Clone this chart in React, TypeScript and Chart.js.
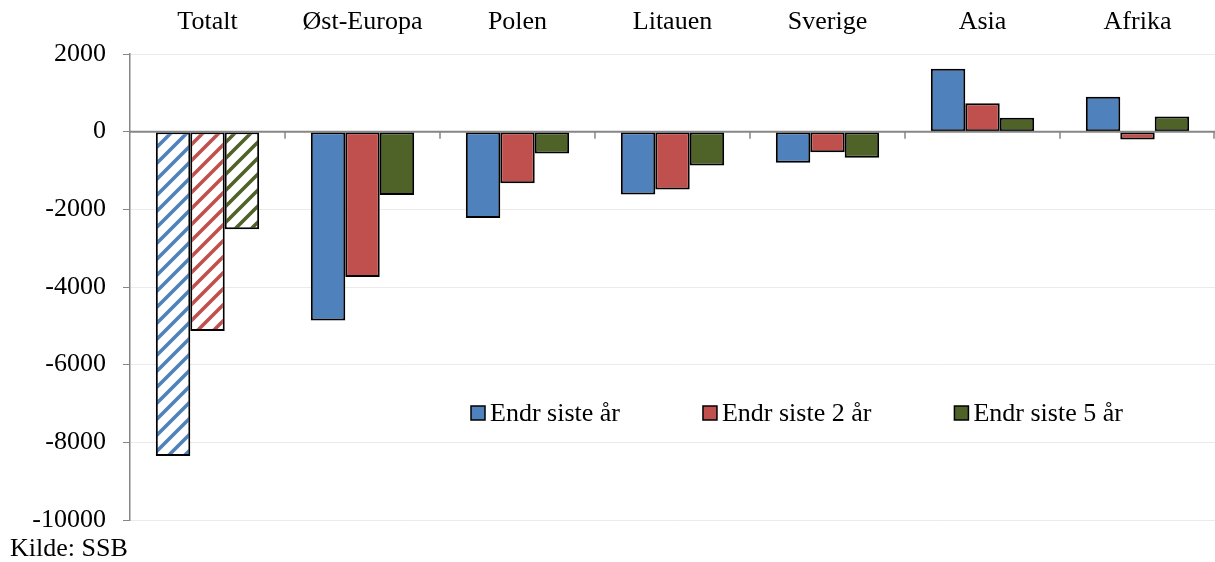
import React, { useEffect, useRef } from 'react';
import { Chart, registerables } from 'chart.js';

Chart.register(...registerables);

const categories = ['Totalt', 'Øst-Europa', 'Polen', 'Litauen', 'Sverige', 'Asia', 'Afrika'];
const seriesNames = ['Endr siste år', 'Endr siste 2 år', 'Endr siste 5 år'];
const changeLastYear = [-8350, -4860, -2220, -1620, -800, 1620, 900];
const changeLast2Years = [-5130, -3740, -1330, -1490, -530, 730, -200];
const changeLast5Years = [-2510, -1630, -560, -870, -670, 360, 390];
const yTickValues = [2000, 0, -2000, -4000, -6000, -8000, -10000];
const seriesColors = ['#4F81BD', '#C0504D', '#4F6228'];
const hatchedCategory = 'Totalt';
const sourceText = 'Kilde: SSB';

const FONT = "'Liberation Serif', 'Times New Roman', serif";
const FONT_SIZE = 26;
const AXIS_GRAY = '#868686';

function makeHatch(color: string): CanvasPattern | string {
  const s = 16;
  const c = document.createElement('canvas');
  c.width = s;
  c.height = s;
  const g = c.getContext('2d');
  if (!g) return color;
  g.fillStyle = '#ffffff';
  g.fillRect(0, 0, s, s);
  g.strokeStyle = color;
  g.lineWidth = 3.6;
  g.lineCap = 'square';
  g.beginPath();
  g.moveTo(0, s);
  g.lineTo(s, 0);
  g.moveTo(-s / 2, s / 2);
  g.lineTo(s / 2, -s / 2);
  g.moveTo(s / 2, (3 * s) / 2);
  g.lineTo((3 * s) / 2, s / 2);
  g.stroke();
  const p = g.createPattern(c, 'repeat');
  return p || color;
}

export default function App() {
  const canvasRef = useRef<HTMLCanvasElement | null>(null);

  useEffect(() => {
    const canvas = canvasRef.current;
    if (!canvas) return;
    const seriesValues = [changeLastYear, changeLast2Years, changeLast5Years];

    const datasets = seriesValues.map((vals, i) => {
      const hatch = makeHatch(seriesColors[i]);
      return {
        label: seriesNames[i],
        data: vals,
        backgroundColor: categories.map((c) => (c === hatchedCategory ? hatch : seriesColors[i])),
        borderColor: '#000000',
        borderWidth: 2,
        borderSkipped: false as const,
        categoryPercentage: 3 / 4.5,
        barPercentage: 1,
      };
    });

    const overlay = {
      id: 'overlay',
      afterDatasetsDraw(chart: any) {
        const { ctx, chartArea, scales } = chart;
        const y0 = scales.y.getPixelForValue(0);
        ctx.save();
        ctx.strokeStyle = AXIS_GRAY;
        ctx.lineWidth = 2;
        ctx.beginPath();
        ctx.moveTo(chartArea.left, y0);
        ctx.lineTo(chartArea.right, y0);
        ctx.stroke();
        const n = categories.length;
        const w = (chartArea.right - chartArea.left) / n;
        ctx.lineWidth = 1.5;
        ctx.beginPath();
        for (let k = 1; k <= n; k++) {
          const x = Math.min(chartArea.left + k * w, chartArea.right - 1);
          ctx.moveTo(x, y0);
          ctx.lineTo(x, y0 + 7);
        }
        ctx.stroke();
        ctx.restore();
      },
      afterDraw(chart: any) {
        const { ctx } = chart;
        ctx.save();
        ctx.font = `${FONT_SIZE}px ${FONT}`;
        ctx.textBaseline = 'middle';
        ctx.textAlign = 'left';
        let x = 471;
        const yc = 413;
        const box = 14;
        chart.data.datasets.forEach((ds: any, i: number) => {
          ctx.fillStyle = seriesColors[i];
          ctx.fillRect(x, yc - box / 2, box, box);
          ctx.strokeStyle = '#000000';
          ctx.lineWidth = 1.5;
          ctx.strokeRect(x, yc - box / 2, box, box);
          ctx.fillStyle = '#000000';
          ctx.fillText(ds.label, x + box + 5, yc + 1);
          x += box + 5 + ctx.measureText(ds.label).width + 83;
        });
        ctx.textBaseline = 'alphabetic';
        ctx.fillText(sourceText, 10, 556);
        ctx.restore();
      },
    };

    const chart = new Chart(canvas, {
      type: 'bar',
      data: { labels: categories, datasets },
      plugins: [overlay],
      options: {
        responsive: false,
        animation: false,
        layout: { padding: { top: 0, left: 0, right: 0, bottom: 42 } },
        plugins: {
          legend: { display: false },
          tooltip: { enabled: false },
        },
        scales: {
          x: {
            position: 'top',
            grid: { display: false, drawTicks: false },
            border: { display: false },
            ticks: {
              color: '#000000',
              font: { family: FONT, size: FONT_SIZE },
              padding: 16,
              maxRotation: 0,
              autoSkip: false,
            },
            afterFit(scale: any) {
              scale.height = 54;
            },
          },
          y: {
            min: -10000,
            max: 2000,
            afterBuildTicks(scale: any) {
              scale.ticks = yTickValues.map((v) => ({ value: v }));
            },
            ticks: {
              color: '#000000',
              font: { family: FONT, size: FONT_SIZE },
              padding: 17,
              callback: (v: any) => String(v),
            },
            grid: {
              color: (c: any) => (c.tick && c.tick.value === 0 ? AXIS_GRAY : '#EBEBEB'),
              tickColor: AXIS_GRAY,
              tickLength: 7,
              lineWidth: 1,
            },
            border: { display: true, color: AXIS_GRAY, width: 1.5 },
            afterFit(scale: any) {
              scale.width = 130;
            },
          },
        },
      },
    });

    return () => chart.destroy();
  }, []);

  return (
    <div style={{ position: 'absolute', left: 0, top: 0, width: 1215, height: 562, background: '#ffffff' }}>
      <canvas ref={canvasRef} width={1215} height={562} style={{ display: 'block' }} />
    </div>
  );
}
